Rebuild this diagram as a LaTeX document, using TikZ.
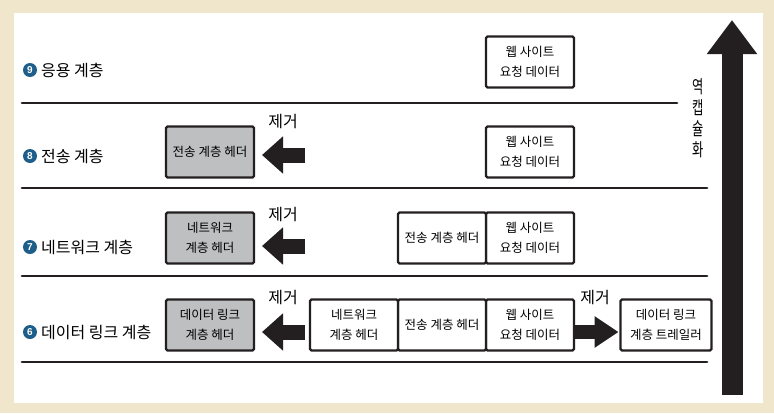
\documentclass[tikz,border=0pt]{standalone}
\usepackage{fontspec}
\setmainfont{Noto Sans CJK KR}
\newfontfamily\narrowkr[FakeStretch=0.68]{Noto Sans CJK KR}
\newfontfamily\digitfont{Liberation Sans}
\usetikzlibrary{arrows.meta,positioning}
\definecolor{paper}{HTML}{EFE6CC}
\definecolor{stepblue}{HTML}{1D5F8A}
\definecolor{hdrgray}{HTML}{BEBFC1}
\definecolor{ink}{HTML}{231F20}

\tikzset{
  pkt/.style={draw=ink, line width=2.3pt, rounded corners=1.5pt, fill=white,
    minimum width=88pt, minimum height=51pt, inner sep=2pt, outer sep=0pt,
    align=center, font=\fontsize{12.5}{20}\selectfont},
  hdr/.style={pkt, fill=hdrgray},
  layerline/.style={draw=ink, line width=2.8pt, line cap=round},
  cutarrow/.style={draw=ink, line width=15pt, -{Triangle[length=21pt,width=36pt]}},
  numdot/.style={circle, fill=stepblue, text=white, inner sep=0pt, minimum size=14pt,
    font=\digitfont\bfseries\fontsize{10}{10}\selectfont},
  cutlabel/.style={font=\fontsize{16}{16}\selectfont, inner sep=0pt},
}

\begin{document}
\begin{tikzpicture}[x=1pt,y=-1pt]
\useasboundingbox (0,0) rectangle (774,413);
\fill[paper] (0,0) rectangle (774,413);
\fill[white] (14,13) rectangle (763,403);

% layer names on the left
\foreach \num/\name/\ypos in {9/응용 계층/70, 8/전송 계층/156, 7/네트워크 계층/247, 6/데이터 링크 계층/332}{
    \node[numdot] (dot\num) at (30,\ypos) {\num};
    \node[anchor=west, inner sep=0pt, font=\fontsize{16}{16}\selectfont] (layer\num) at (41,\ypos) {\name};
}

% layer borders
\foreach \ypos/\xend in {103/677, 188/707, 276/707, 362/707}{
    \draw[layerline] (22,\ypos) -- (\xend,\ypos);
}

% layer 9
\node[pkt] (data9) at (530,62) {웹 사이트\\요청 데이터};

% layer 8
\node[pkt] (data8) at (530,152) {웹 사이트\\요청 데이터};
\node[hdr] (tcp8) at (210,152) {전송 계층 헤더};
\coordinate (tail8) at (305,155);
\draw[cutarrow, shorten >=8pt] (tail8) -- (tcp8.east |- tail8);
\node[cutlabel] (cut8) at (283,122) {제거};

% layer 7
\node[pkt] (data7) at (530,238) {웹 사이트\\요청 데이터};
\node[pkt, left=0pt of data7] (tcp7) {전송 계층 헤더};
\node[hdr] (ip7) at (210,238) {네트워크\\계층 헤더};
\coordinate (tail7) at (305,246);
\draw[cutarrow, shorten >=8pt] (tail7) -- (ip7.east |- tail7);
\node[cutlabel] (cut7) at (283,215) {제거};

% layer 6
\node[pkt] (data6) at (530,325) {웹 사이트\\요청 데이터};
\node[pkt, left=0pt of data6] (tcp6) {전송 계층 헤더};
\node[pkt, left=0pt of tcp6] (ip6) {네트워크\\계층 헤더};
\node[hdr] (mac6) at (210,325) {데이터 링크\\계층 헤더};
\node[pkt, minimum width=91pt] (fcs6) at (666,325) {데이터 링크\\계층 트레일러};
\draw[cutarrow, shorten <=5pt, shorten >=8pt] (ip6.west |- layer6) -- (mac6.east |- layer6);
\draw[cutarrow, line width=14pt, -{Triangle[length=24pt,width=30pt]}, shorten >=2pt]
    (data6.east |- layer6) -- (fcs6.west |- layer6);
\node[cutlabel] (cut6a) at (283,298) {제거};
\node[cutlabel] (cut6b) at (595,298) {제거};

% decapsulation arrow
\coordinate (decapbase) at (732,395);
\coordinate (decaptop) at (732,20);
\draw[draw=ink, line width=21pt, -{Triangle[length=34pt,width=48pt]}] (decapbase) -- (decaptop);
\node[align=center, inner sep=0pt, font=\narrowkr\fontsize{18}{21}\selectfont] (decap) at (698,118) {역\\캡\\슐\\화};
\end{tikzpicture}
\end{document}
